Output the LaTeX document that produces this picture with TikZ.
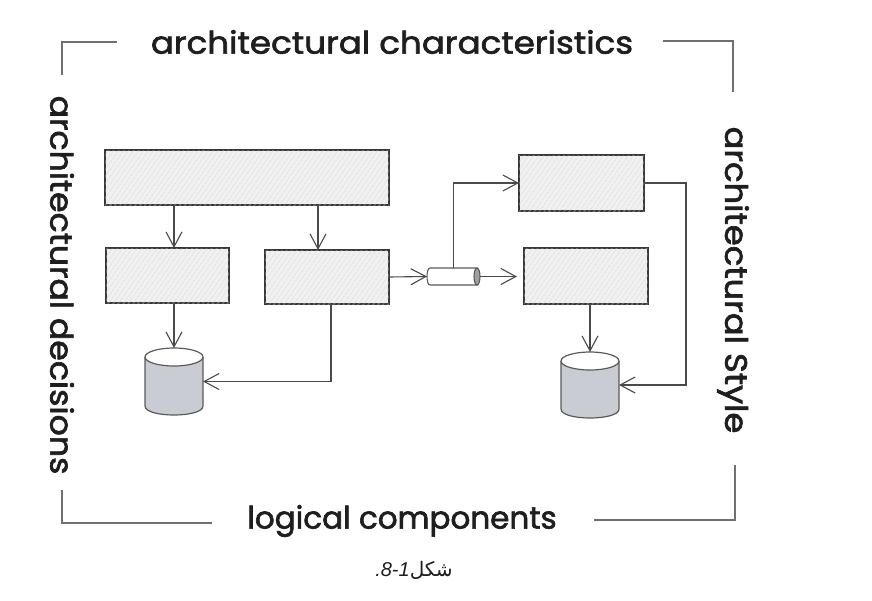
\documentclass[tikz,border=0pt]{standalone}
\usepackage{fontspec}
\setmainfont{Poppins}
\newfontfamily\handfont{Poppins}[FakeBold=2]
\newfontfamily\arabicfont[Script=Arabic]{DejaVu Sans}
\newfontfamily\capfont{Liberation Sans}
\TeXXeTstate=1
\usetikzlibrary{arrows.meta,patterns.meta,calc}
\definecolor{boxfill}{HTML}{F1F1F1}
\definecolor{boxline}{HTML}{383838}
\definecolor{hatch}{HTML}{D2D2D2}
\definecolor{dbfill}{HTML}{C9CCD3}
\definecolor{dbline}{HTML}{5A5A5A}
\definecolor{arrline}{HTML}{4A4A4A}
\definecolor{brk}{HTML}{707070}
\definecolor{txt}{HTML}{1E1E1E}
\newcommand{\dbshape}[1]{%
  \fill[dbfill] ($(#1.north west)+(0,9)$) -- ($(#1.south west)+(0,-9)$)
     .. controls ($(#1.south west)+(0,3)$) and ($(#1.south east)+(0,3)$) .. ($(#1.south east)+(0,-9)$)
     -- ($(#1.north east)+(0,9)$) -- cycle;
  \draw[dbline, line width=1.2pt] ($(#1.north west)+(0,9)$) -- ($(#1.south west)+(0,-9)$)
     .. controls ($(#1.south west)+(0,3)$) and ($(#1.south east)+(0,3)$) .. ($(#1.south east)+(0,-9)$)
     -- ($(#1.north east)+(0,9)$);
  \filldraw[dbline, fill=white, line width=1.2pt] ($(#1.north)+(0,9)$) ellipse [x radius=29pt, y radius=9pt];
}
\newcommand{\tubeshape}[1]{%
  \filldraw[dbline, fill=white, line width=1.1pt] ($(#1.north west)+(3,0)$) -- ($(#1.north east)+(-3,0)$)
     -- ($(#1.south east)+(-3,0)$) -- ($(#1.south west)+(3,0)$)
     .. controls ($(#1.south west)+(-1,0)$) and ($(#1.north west)+(-1,0)$) .. cycle;
  \filldraw[dbline, fill=gray!75, line width=1.1pt] ($(#1.east)+(-3,0)$) ellipse [x radius=3pt, y radius=8.5pt];
}
\begin{document}
\begin{tikzpicture}[x=1pt,y=-1pt,
  sbox/.style={draw=boxline, line width=1.5pt, fill=boxfill,
    postaction={pattern={Lines[angle=55,distance=4pt,line width=0.6pt]}, pattern color=hatch},
    inner sep=0pt, outer sep=0pt, anchor=north west},
  anchorbox/.style={inner sep=0pt, outer sep=0pt},
  arr/.style={draw=arrline, line width=1.1pt, -{Straight Barb[length=15pt,width=16pt,line width=1.1pt]}},
  brack/.style={draw=brk, line width=2pt},
  lbl/.style={text=txt, font=\handfont\fontsize{31}{34}\selectfont, inner sep=0pt}]
\useasboundingbox (0,0) rectangle (872,600);

% brackets
\draw[brack] (117,42) -- (62,42) -- (62,75);
\draw[brack] (663,41) -- (733,41) -- (733,92);
\draw[brack] (62,490) -- (62,523) -- (212,523);
\draw[brack] (594,520) -- (735,520) -- (735,465);

% labels
\node[lbl] (tt) at (392,42) {\scalebox{1.10}[1]{architectural characteristics}};
\node[lbl, rotate=-90] (lt) at (62,285) {\scalebox{1.07}[1]{architectural decisions}};
\node[lbl, rotate=-90] (rt) at (733,280) {\scalebox{1.09}[1]{architectural Style}};
\node[lbl] (bt) at (402,521) {logical components};
\node[inner sep=0pt, text=txt] (cap) at (414,570) {\capfont\fontsize{20}{24}\selectfont\itshape .8-1{\upshape\arabicfont\beginR شكل\endR}};

% boxes
\node[sbox, minimum width=284pt, minimum height=55pt] (top) at (105,150) {};
\node[sbox, minimum width=123pt, minimum height=55pt] (l1) at (106,248) {};
\node[sbox, minimum width=124pt, minimum height=54pt] (m1) at (265,250) {};
\node[sbox, minimum width=125pt, minimum height=56pt] (r1) at (519,155) {};
\node[sbox, minimum width=124pt, minimum height=56pt] (r2) at (524,248) {};

% cylinders
\node[anchorbox, minimum width=58pt, minimum height=67pt] (db1) at (174,381.5) {};
\node[anchorbox, minimum width=58pt, minimum height=66pt] (db2) at (590,385) {};
\node[anchorbox, minimum width=53pt, minimum height=17pt] (tube) at (453.5,276.5) {};
\dbshape{db1}
\dbshape{db2}
\tubeshape{tube}

% connectors
\draw[arr] ([xshift=6.5pt]l1.north |- top.south) -- ([xshift=6.5pt]l1.north);
\draw[arr] ([xshift=-9pt]m1.north |- top.south) -- ([xshift=-9pt]m1.north);
\draw[arr] (db1.north |- l1.south) -- (db1.north);
\draw[arr] ([xshift=4pt]m1.south) |- (db1.east);
\draw[arr] (m1.east) -- (tube.west);
\draw[arr, shorten >=7pt] (tube.east) -- (tube.east -| r2.west);
\draw[arr] (tube.north) |- (r1.west);
\draw[arr] (r1.east) -- ++(42pt,0) |- (db2.east);
\draw[arr] (db2.north |- r2.south) -- (db2.north);
\end{tikzpicture}
\end{document}
